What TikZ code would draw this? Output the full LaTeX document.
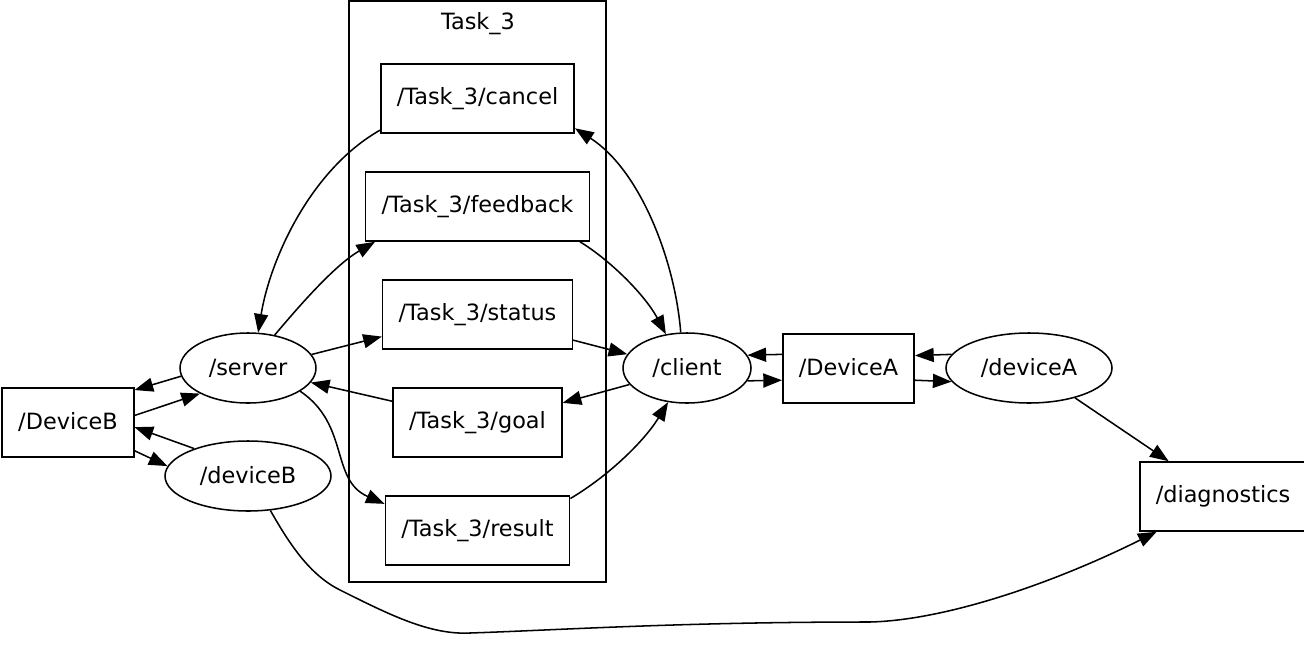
\documentclass[tikz,border=0pt]{standalone}
\usepackage{fontspec}
\setmainfont{DejaVu Sans}
\usetikzlibrary{arrows.meta, positioning, shapes.geometric}
\tikzset{
  every picture/.style={line width=1.15pt},
  topic/.style={draw, rectangle, minimum height=51.75pt, inner xsep=12pt, font=\fontsize{16.8pt}{19pt}\selectfont},
  rosnode/.style={draw, ellipse, inner sep=0pt, minimum height=52.5pt, minimum width=#1, font=\fontsize{16.8pt}{19pt}\selectfont},
  rosnode/.default=102pt,
  edge/.style={-{Triangle[length=14pt, width=10.5pt]}},
}
\begin{document}
\begin{tikzpicture}[x=0.75pt, y=-0.75pt,
  cluster/.style={draw},
  clusterlab/.style={font=\fontsize{16.8pt}{19pt}\selectfont}]
  \useasboundingbox (0,0) rectangle (1304,661);
  % ---------- Task_3 cluster ----------
  \draw[cluster] (349,1) rectangle (606,582);
  \node[clusterlab] (task3) at (478,24) {Task\_3};
  \foreach \t [count=\i] in {cancel, feedback, status, goal, result}
    \node[topic] (t\t) at (477.5, -9.5+108*\i) {/Task\_3/\t};
  % ---------- nodes and topics ----------
  \node[rosnode] (server) at (248,368) {/server};
  \node[rosnode=96pt] (client) at (687,368) {/client};
  \node[rosnode=124.5pt] (devB) at (248,476) {/deviceB};
  \node[rosnode=124.5pt] (devA) at (1029,368) {/deviceA};
  \node[topic] (tDevB) at (68,422.5) {/DeviceB};
  \node[topic] (tDevA) at (848.5,368.5) {/DeviceA};
  \node[topic] (tdiag) at (1223,496.5) {/diagnostics};
  % ---------- server side ----------
  \draw[edge] (tcancel.198) .. controls (310,170) and (270,260) .. (server.74);
  \draw[edge] (server.51) .. controls (300,305) and (335,265) .. (tfeedback.199.5);
  \draw[edge] (server.12) -- (tstatus.193.5);
  \draw[edge] (tgoal.166.5) -- (server.-13);
  \draw[edge] (server.-24) .. controls (350,425) and (330,480) .. (tresult.164);
  % ---------- client side ----------
  \draw[edge] (tfeedback.-19) .. controls (610,260) and (645,295) .. (client.122);
  \draw[edge] (client.100) .. controls (675,260) and (640,170) .. (tcancel.-17);
  \draw[edge] (tstatus.-15) -- (client.167);
  \draw[edge] (client.196) -- (tgoal.13.5);
  \draw[edge] (tresult.19) .. controls (610,475) and (645,440) .. (client.241);
  % ---------- devices ----------
  \draw[edge] (server.187) -- (tDevB.26.5);
  \draw[edge] (tDevB.6.4) -- (server.208);
  \draw[edge] (devB.153) -- (tDevB.-4.7);
  \draw[edge] (tDevB.-23.8) -- (devB.173);
  \draw[edge] (tDevA.168.5) -- (client.12);
  \draw[edge] (client.-12) -- (tDevA.190.6);
  \draw[edge] (devA.170) -- (tDevA.11.5);
  \draw[edge] (tDevA.-10.6) -- (devA.190);
  \draw[edge] (devA.-33) -- (tdiag.147);
  \draw[edge] (devB.-57) .. controls (290,545) and (310,575) .. (340,590)
    .. controls (390,615) and (430,635) .. (470,633)
    .. controls (560,630) and (680,622) .. (870,622)
    .. controls (950,620) and (1060,580) .. (tdiag.208);
\end{tikzpicture}
\end{document}
